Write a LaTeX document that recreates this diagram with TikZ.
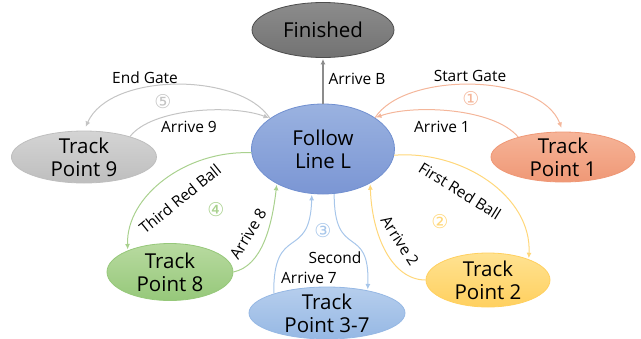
\documentclass[tikz,border=0pt]{standalone}
\usepackage{fontspec}
\setmainfont{Open Sans}
\newfontfamily\symfont{DejaVu Sans}
\usetikzlibrary{shapes.geometric,arrows.meta}

\definecolor{grayline}{HTML}{C4C4C4}
\definecolor{orangeline}{HTML}{F4B69A}
\definecolor{yellowline}{HTML}{FFD77A}
\definecolor{blueline}{HTML}{A7C6EA}
\definecolor{greenline}{HTML}{A9D18E}

\definecolor{finfill}{HTML}{7F7F7F}
\definecolor{finborder}{HTML}{4D4D4D}
\definecolor{followtop}{HTML}{9AB2E0}
\definecolor{followbot}{HTML}{7B96D4}
\definecolor{followborder}{HTML}{708FD0}
\definecolor{ninetop}{HTML}{D4D4D4}
\definecolor{ninebot}{HTML}{BEBEBE}
\definecolor{onetop}{HTML}{F6B498}
\definecolor{onebot}{HTML}{EF9876}
\definecolor{eighttop}{HTML}{B8DAA0}
\definecolor{eightbot}{HTML}{96C87A}
\definecolor{threetop}{HTML}{B6CEED}
\definecolor{threebot}{HTML}{96B8E4}
\definecolor{twotop}{HTML}{FFE291}
\definecolor{twobot}{HTML}{FFD05F}

\tikzset{
  state/.style={ellipse, inner sep=0pt, line width=0.8pt},
  statetext/.style={align=center, font=\fontsize{20.5}{23}\selectfont, text=black},
  edgetext/.style={font=\fontsize{15.5}{17}\selectfont, text=black, inner sep=0pt},
  numtext/.style={font=\symfont\fontsize{19}{20}\selectfont, inner sep=0pt},
  conn/.style={line width=1pt, -{Latex[length=5.5pt,width=5pt]}, shorten >=1pt},
}

\begin{document}
\begin{tikzpicture}[x=1pt, y=-1pt]
\useasboundingbox (0,0) rectangle (641,338);

% states
\node[state, minimum width=142pt, minimum height=55pt, draw=finborder,
      top color=finfill!90!white, bottom color=finfill!90!black] (Fin) at (323,30) {};
\node[state, minimum width=143pt, minimum height=90pt, draw=followborder,
      top color=followtop, bottom color=followbot] (F) at (323,149) {};
\node[state, minimum width=145pt, minimum height=52pt, draw=ninebot,
      top color=ninetop, bottom color=ninebot] (T9) at (84,157) {};
\node[state, minimum width=144pt, minimum height=50pt, draw=onebot,
      top color=onetop, bottom color=onebot] (T1) at (563,157) {};
\node[state, minimum width=126pt, minimum height=57pt, draw=eightbot,
      top color=eighttop, bottom color=eightbot] (T8) at (170,272) {};
\node[state, minimum width=156pt, minimum height=52pt, draw=threebot,
      top color=threetop, bottom color=threebot] (T37) at (327,313) {};
\node[state, minimum width=124pt, minimum height=54pt, draw=twobot,
      top color=twotop, bottom color=twobot] (T2) at (488,280) {};

\node[statetext] (Fin-t) at (Fin) {Finished};
\node[statetext] (F-t) at (F) {Follow\\Line L};
\node[statetext] (T9-t) at (T9) {Track\\Point 9};
\node[statetext] (T1-t) at (T1) {Track\\Point 1};
\node[statetext] (T8-t) at (T8) {Track\\Point 8};
\node[statetext] (T37-t) at (T37) {Track\\Point 3-7};
\node[statetext] (T2-t) at (T2) {Track\\Point 2};

% transitions
\draw[conn, draw=black!45, line width=1.2pt] (F.north) -- (Fin.south);

\draw[conn, draw=grayline, shorten >=4pt] (F.150) .. controls (240,72) and (110,72) .. (T9.north);
\draw[conn, draw=grayline] (T9.24) .. controls (152,108) and (232,104) .. (F.150);

\draw[conn, draw=orangeline, shorten >=4pt] (F.31) .. controls (404,72) and (540,72) .. (T1.north);
\draw[conn, draw=orangeline] (T1.156) .. controls (494,108) and (414,104) .. (F.31);

\draw[conn, draw=yellowline] (F.-5) .. controls (462,150) and (532,196) .. (T2.27);
\draw[conn, draw=yellowline] (T2.west) .. controls (392,280) and (372,236) .. (F.-36);

\draw[conn, draw=blueline] (F.-76) .. controls (334,262) and (370,222) .. (T37.29);
\draw[conn, draw=blueline] (T37.160) .. controls (273,222) and (310,262) .. (F.-104);

\draw[conn, draw=greenline] (F.-177) .. controls (186,150) and (126,196) .. (T8.153);
\draw[conn, draw=greenline] (T8.east) .. controls (262,266) and (272,226) .. (F.-143);

% transition labels
\node[edgetext] (lB) at (357,79) {Arrive B};
\node[edgetext] (lEG) at (145,78) {End Gate};
\node[numtext, text=grayline] (n5) at (163,102) {⑤};
\node[edgetext] (lA9) at (189,127) {Arrive 9};
\node[edgetext] (lSG) at (470,76) {Start Gate};
\node[numtext, text=orangeline] (n1) at (471,99) {①};
\node[edgetext] (lA1) at (442,127) {Arrive 1};
\node[edgetext, rotate=-32] (lFR) at (460,191) {First Red Ball};
\node[numtext, text=yellowline] (n2) at (440,222) {②};
\node[edgetext, rotate=-57] (lA2) at (400,241) {Arrive 2};
\node[numtext, text=blueline] (n3) at (323,231) {③};
\node[edgetext] (lS) at (335,258) {Second};
\node[edgetext] (lA7) at (309,278) {Arrive 7};
\node[edgetext, rotate=39] (lTR) at (180,199) {Third Red Ball};
\node[numtext, text=greenline] (n4) at (216,210) {④};
\node[edgetext, rotate=59] (lA8) at (248,234) {Arrive 8};
\end{tikzpicture}
\end{document}
